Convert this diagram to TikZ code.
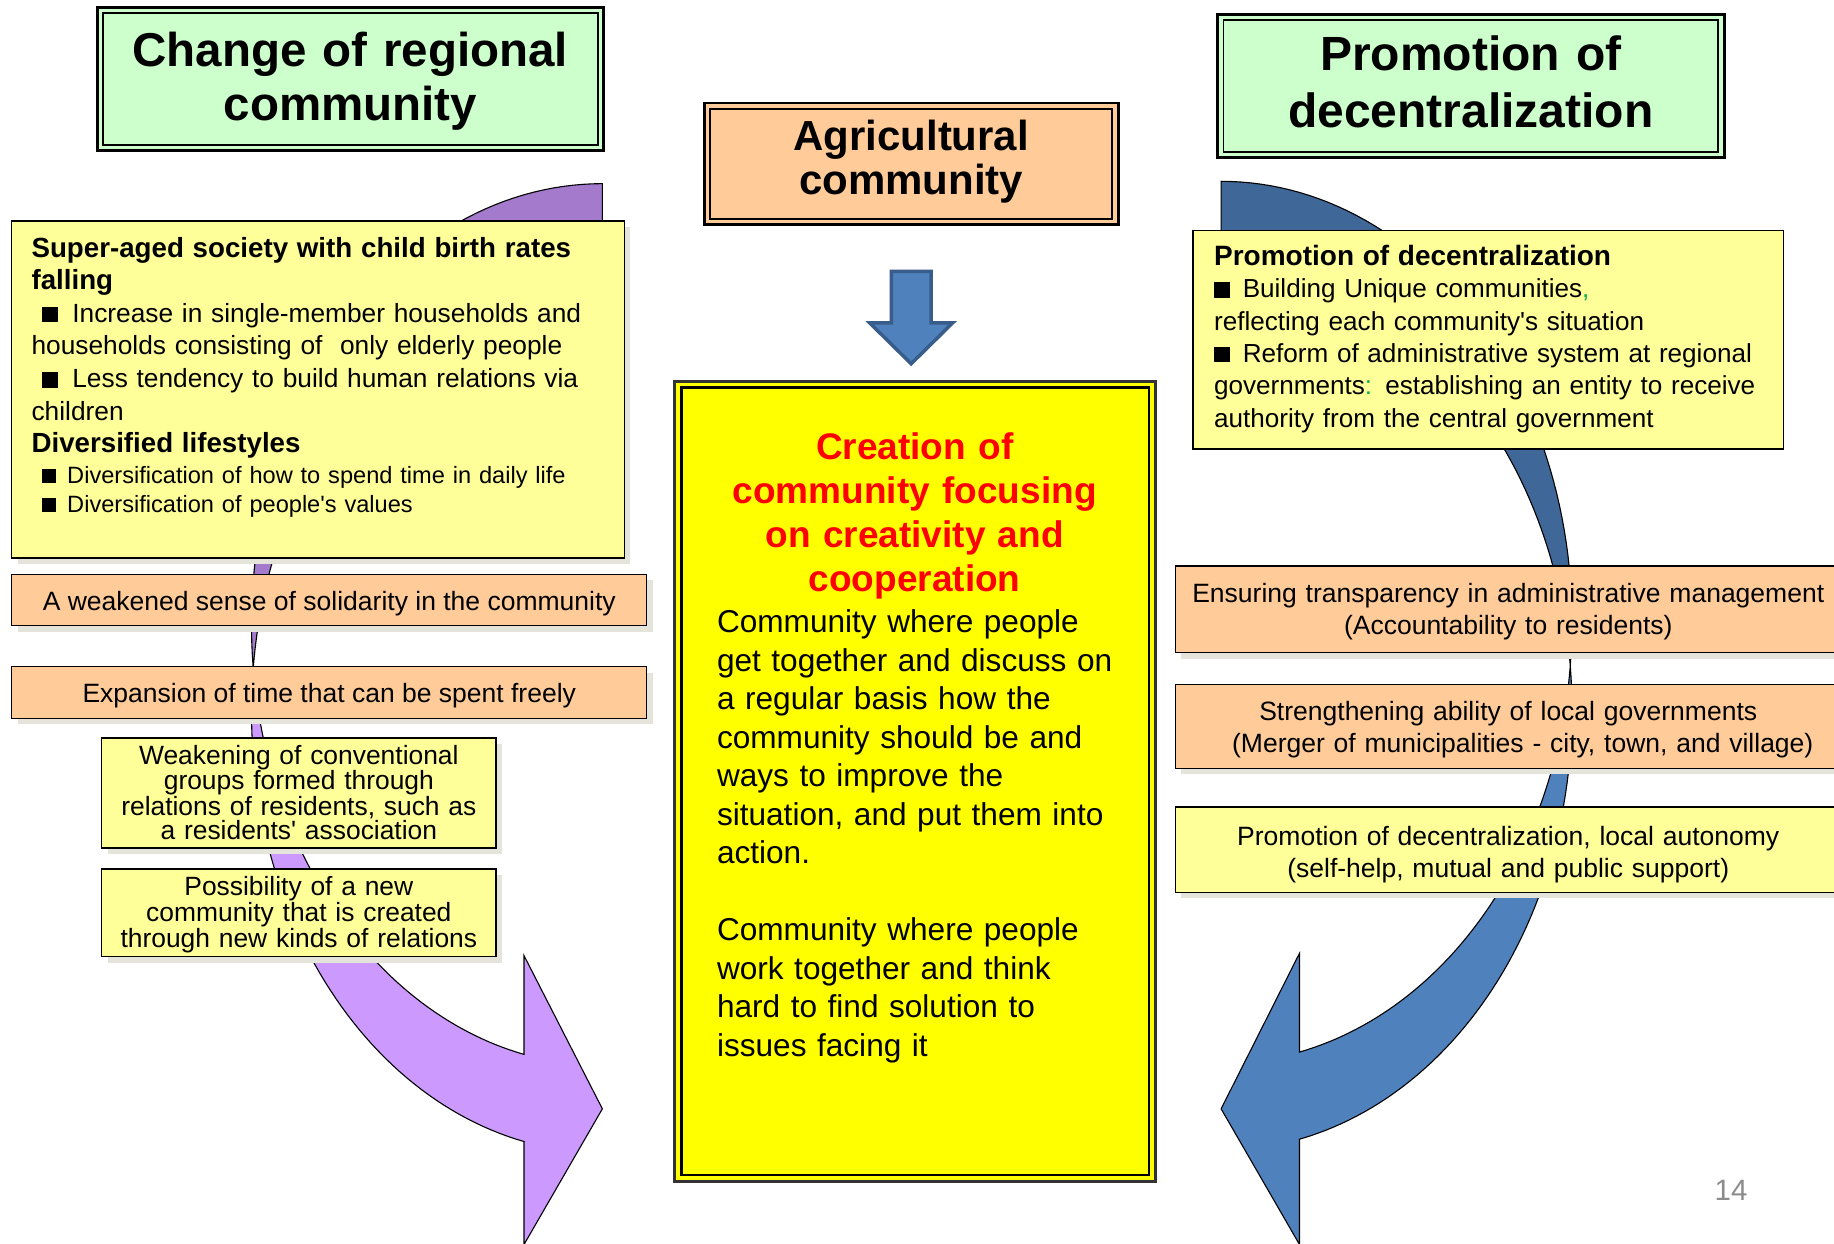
\documentclass[tikz,border=0pt]{standalone}
\usepackage{fontspec}
\setmainfont{Liberation Sans}[Ligatures=TeXOff]
\definecolor{ttlgreen}{HTML}{CCFFCC}
\definecolor{peach}{HTML}{FFCC99}
\definecolor{lyellow}{HTML}{FFFF99}
\definecolor{cyellow}{HTML}{FFFF00}
\definecolor{purpL}{HTML}{CC99FF}
\definecolor{purpD}{HTML}{A37ACC}
\definecolor{blueL}{HTML}{4F81BD}
\definecolor{blueD}{HTML}{3F6797}
\definecolor{blueEdge}{HTML}{385D8A}
\definecolor{shadowc}{HTML}{E4E4DA}
\definecolor{pgnum}{HTML}{8C8C8C}
\definecolor{gpunct}{HTML}{00B050}
\definecolor{redtitle}{HTML}{FF0000}
\newcommand{\setfs}[2]{\fontsize{#1pt}{#2pt}\selectfont}
\newcommand{\blk}{\rule{0.6em}{0.6em}}
\begin{document}
\begin{tikzpicture}[x=1.1696pt,y=-1.1696pt,
  bandedge/.style={draw=black,line width=1.1pt,line join=miter},
  txtbox/.style={draw=black,line width=1.3pt},
  ylwbox/.style={txtbox,fill=lyellow},
  orgbox/.style={txtbox,fill=peach},
  shadbox/.style={fill=shadowc},
  lbl/.style={inner sep=0pt,outer sep=0pt},
  ttlouter/.style={draw=black,line width=3pt,fill=ttlgreen},
  ttlinner/.style={draw=black,line width=1.8pt}
]
\useasboundingbox (0,0) rectangle (1568,1063);
\fill[white] (0,0) rectangle (1568,1063);
\clip (0,0) rectangle (1568,1063);

% ---------- left curved arrow (purple) ----------
\filldraw[fill=purpD,bandedge]
  plot[domain=0:95.67,samples=60] ({515-300*sin(\x)},{534-377*cos(\x)})
  -- plot[domain=84.33:0,samples=60] ({515-300*sin(\x)},{608.5-377*cos(\x)}) -- cycle;
\filldraw[fill=purpL,bandedge]
  plot[domain=95.67:167.1,samples=60] ({515-300*sin(\x)},{534-377*cos(\x)})
  -- (448,817) -- (515,948) -- (448,1064) -- (448,976)
  -- plot[domain=167.1:84.33,samples=60] ({515-300*sin(\x)},{608.5-377*cos(\x)}) -- cycle;

% ---------- right curved arrow (blue) ----------
\filldraw[fill=blueD,bandedge]
  plot[domain=0:95.67,samples=60] ({1044+300*sin(\x)},{532-377*cos(\x)})
  -- plot[domain=84.33:0,samples=60] ({1044+300*sin(\x)},{606.5-377*cos(\x)}) -- cycle;
\filldraw[fill=blueL,bandedge]
  plot[domain=95.67:167.1,samples=60] ({1044+300*sin(\x)},{532-377*cos(\x)})
  -- (1111,815) -- (1044,948) -- (1111,1064) -- (1111,974)
  -- plot[domain=167.1:84.33,samples=60] ({1044+300*sin(\x)},{606.5-377*cos(\x)}) -- cycle;

% ---------- title boxes ----------
\path[ttlouter] (83,6) rectangle (516,129);
\path[ttlinner] (88,11) rectangle (511,124);
\node[lbl,anchor=base,text width=500pt,align=center,font=\bfseries\setfs{47.5}{54}] (lefttitle) at (299.5,57) {Change of regional\\community};

\path[ttlouter] (1041,12) rectangle (1474,135);
\path[ttlinner] (1046,17) rectangle (1469,130);
\node[lbl,anchor=base,text width=500pt,align=center,font=\bfseries\setfs{48}{57}] (righttitle) at (1257.5,60.5) {Promotion of\\decentralization};

\path[draw=black,line width=2.8pt,fill=peach] (602,88) rectangle (956,192);
\path[draw=black,line width=1.8pt] (607,93) rectangle (951,187);
\node[lbl,anchor=base,text width=420pt,align=center,font=\bfseries\setfs{42}{44}] (agri) at (779,128.5) {Agricultural\\community};

% ---------- down arrow ----------
\filldraw[fill=blueL,draw=blueEdge,line width=3.5pt,line join=miter]
  (762,232) -- (796,232) -- (796,276) -- (814.5,276) -- (779,311) -- (743.5,276) -- (762,276) -- cycle;

% ---------- central box ----------
\path[draw=black!80,line width=3.2pt,fill=cyellow] (577,326) rectangle (988,1010);
\path[draw=black,line width=2.6pt] (582.5,331.5) rectangle (982.5,1004.5);
\node[lbl,anchor=base,text width=480pt,align=center,text=redtitle,font=\bfseries\setfs{37}{44}] (creation) at (782,392.7) {Creation of\\community focusing\\on creativity and\\cooperation};
\node[lbl,anchor=base west,text width=440pt,align=left,font=\setfs{31.6}{38.5}] (centertext) at (613,541) {Community where people\\get together and discuss on\\a regular basis how the\\community should be and\\ways to improve the\\situation, and put them into\\action.\\[38.5pt]Community where people\\work together and think\\hard to find solution to\\issues facing it};

% ---------- left boxes ----------
\path[shadbox] (15,194) rectangle (539,482);
\path[ylwbox] (10,189) rectangle (534,477);
\node[lbl,anchor=base west,text width=580pt,align=left,font=\setfs{26.3}{32.55}] (superaged) at (27,220) {{\bfseries\setfs{27.7}{32.55}Super-aged society with child birth rates}\\{\bfseries\setfs{27.7}{32.55}falling}\\\hspace*{10.5pt}\blk\hspace{14.5pt}Increase in single-member households and\\households consisting of \ only elderly people\\\hspace*{10.5pt}\blk\hspace{14.5pt}Less tendency to build human relations via\\children\\{\bfseries\setfs{27.7}{32.55}Diversified lifestyles}};
\node[lbl,anchor=base west,text width=580pt,align=left,font=\setfs{23.6}{29.2}] (diversified) at (27,413) {\hspace*{10.5pt}\blk\hspace{11pt}Diversification of how to spend time in daily life\\\hspace*{10.5pt}\blk\hspace{11pt}Diversification of people's values};

\path[shadbox] (15,496) rectangle (558,540);
\path[orgbox] (10,491) rectangle (553,535);
\node[lbl,anchor=base,font=\setfs{26.5}{32}] (weakened) at (281.5,522) {A weakened sense of solidarity in the community};

\path[shadbox] (15,575) rectangle (558,619);
\path[orgbox] (10,570) rectangle (553,614);
\node[lbl,anchor=base,font=\setfs{26.5}{32}] (expansion) at (281.5,601) {Expansion of time that can be spent freely};

\path[shadbox] (92,636) rectangle (429,730);
\path[ylwbox] (87,631) rectangle (424,725);
\node[lbl,anchor=base,text width=400pt,align=center,font=\setfs{26.4}{22.5}] (weakening) at (255.5,653.5) {Weakening of conventional\\groups formed through\\relations of residents, such as\\a residents' association};

\path[shadbox] (92,748) rectangle (429,823);
\path[ylwbox] (87,743) rectangle (424,818);
\node[lbl,anchor=base,text width=400pt,align=center,font=\setfs{26.4}{22.5}] (possibility) at (255.5,766) {Possibility of a new\\community that is created\\through new kinds of relations};

% ---------- right boxes ----------
\path[ylwbox] (1020,197) rectangle (1525,384);
\node[lbl,anchor=base west,text width=580pt,align=left,font=\setfs{26.1}{32.3}] (promtxt) at (1038,227) {{\bfseries\setfs{28}{32.3}Promotion of decentralization}\\\blk\hspace{13pt}Building Unique communities{\color{gpunct},}\\reflecting each community's situation\\\blk\hspace{13pt}Reform of administrative system at regional\\governments{\color{gpunct}:} establishing an entity to receive\\authority from the central government};

\path[shadbox] (1010,489) rectangle (1579,563);
\path[orgbox] (1005,484) rectangle (1574,558);
\node[lbl,anchor=base,text width=720pt,align=center,font=\setfs{26.5}{32}] (ensuring) at (1289.5,515) {Ensuring transparency in administrative management\\(Accountability to residents)};

\path[shadbox] (1010,590) rectangle (1579,662);
\path[orgbox] (1005,585) rectangle (1574,657);
\node[lbl,anchor=base,text width=720pt,align=center,font=\setfs{26.5}{32}] (strengthen) at (1289.5,616) {Strengthening ability of local governments\\\hspace*{29pt}(Merger of municipalities - city, town, and village)};

\path[shadbox] (1010,695) rectangle (1579,768);
\path[ylwbox] (1005,690) rectangle (1574,763);
\node[lbl,anchor=base,text width=720pt,align=center,font=\setfs{26.5}{32}] (promlocal) at (1289.5,722.5) {Promotion of decentralization, local autonomy\\(self-help, mutual and public support)};

% ---------- page number ----------
\node[lbl,anchor=base,text=pgnum,font=\setfs{29.5}{32}] (pagenum) at (1480,1026) {14};
\end{tikzpicture}
\end{document}
